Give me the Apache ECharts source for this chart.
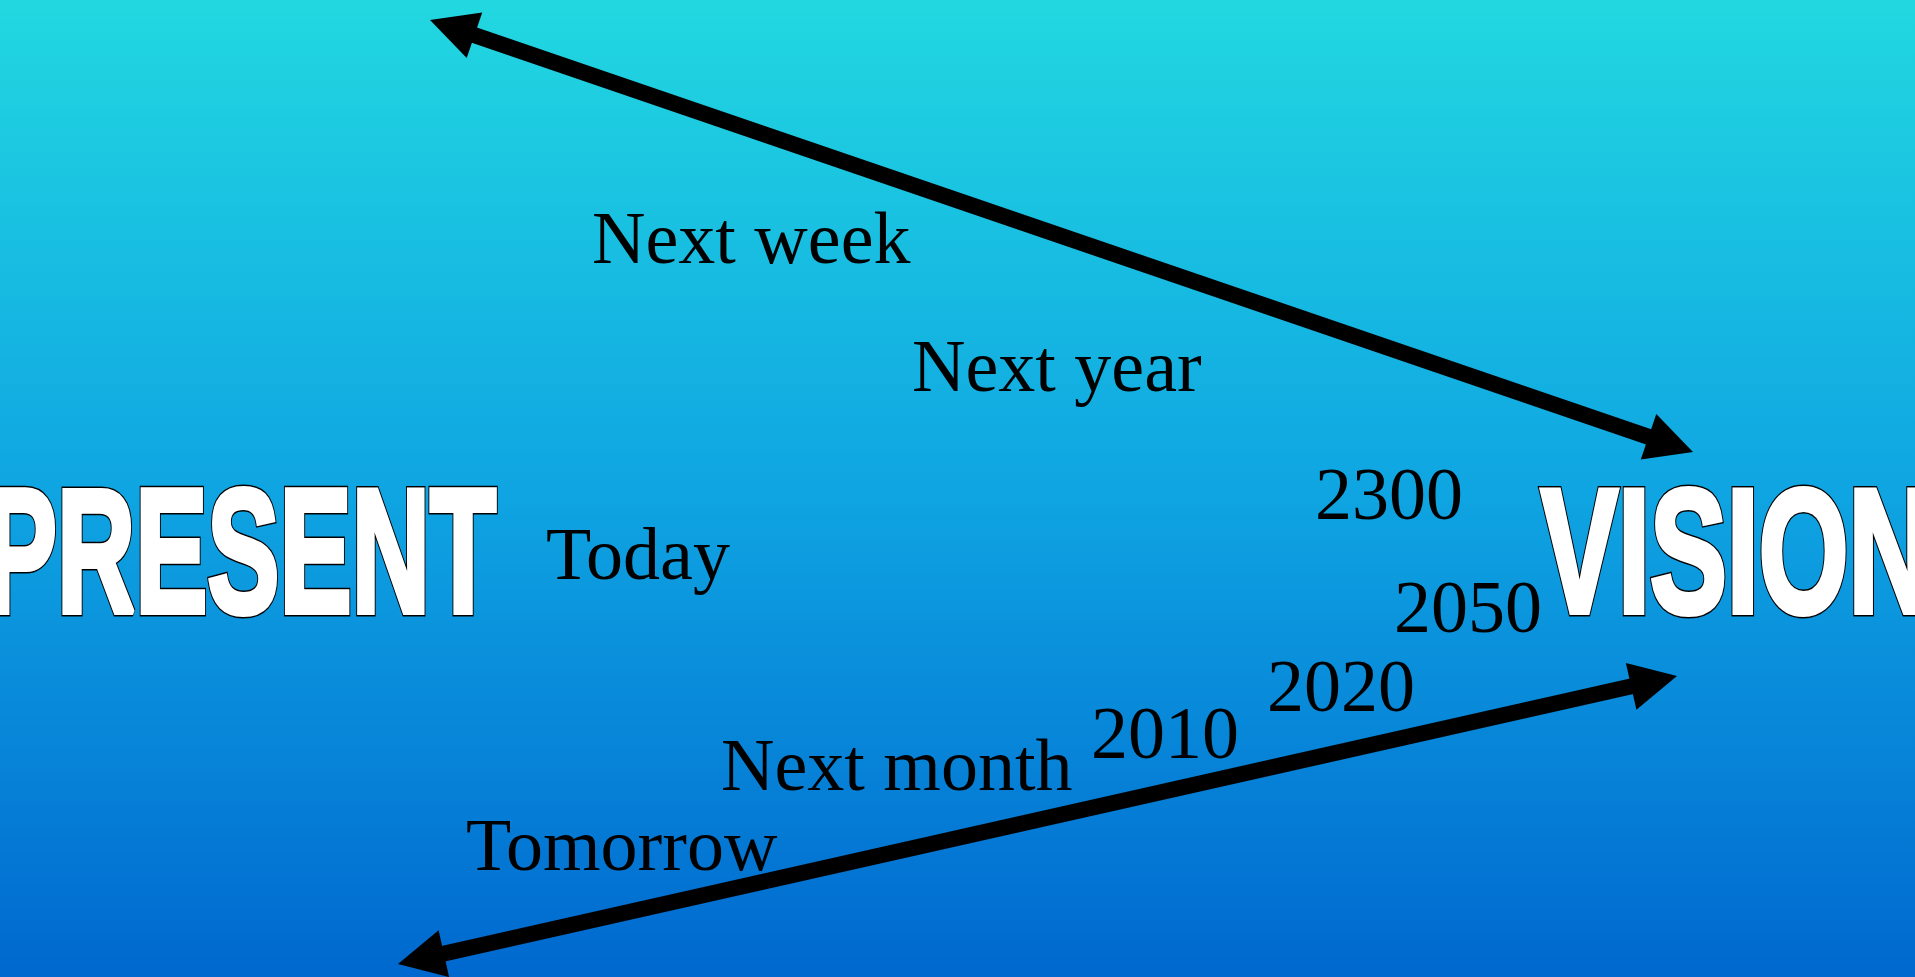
<!DOCTYPE html>
<html>
<head>
<meta charset="utf-8">
<script src="https://cdn.jsdelivr.net/npm/echarts@6/dist/echarts.min.js"></script>
<style>
html,body{margin:0;padding:0;width:100%;height:100%;overflow:hidden;}
#chart{width:1915px;height:977px;}
</style>
</head>
<body>
<div id="chart"></div>
<script>
// ---- data (diagram coordinates in a 1915 x 977 value space) ----
const arrowStartX = [430, 398];
const arrowStartY = [20, 964];
const arrowEndX = [1693, 1677];
const arrowEndY = [452, 676];

const labelTexts = ['Next week', 'Next year', 'Today', '2300', '2050', '2020', '2010', 'Next month', 'Tomorrow'];
const labelX = [592, 912, 546, 1315, 1394, 1267, 1091, 721, 466];
const labelY = [263, 391, 579, 519, 632, 711, 758, 790, 870];

const titleTexts = ['PRESENT', 'VISION'];
const titleX = [496, 1541];
const titleY = [619, 619];
const titleAlign = ['right', 'left'];
const titleScaleX = [0.615, 0.655];

// ---- chart ----
const chart = echarts.init(document.getElementById('chart'), null, {renderer: 'canvas'});

const HEAD_LEN = 47, HEAD_HALF = 24, SHAFT = 16;
const MID_SERIF = 0.26;
const MID_SANS = 0.29;

function head(tip, dir) {
  const bx = tip[0] - dir[0] * HEAD_LEN, by = tip[1] - dir[1] * HEAD_LEN;
  const nx = -dir[1], ny = dir[0];
  return [[tip[0], tip[1]], [bx + nx * HEAD_HALF, by + ny * HEAD_HALF], [bx - nx * HEAD_HALF, by - ny * HEAD_HALF]];
}

const option = {
  animation: false,
  backgroundColor: {
    type: 'linear', x: 0, y: 0, x2: 0, y2: 1,
    colorStops: [
      {offset: 0, color: '#22D8E0'},
      {offset: 0.5, color: '#0FA5E2'},
      {offset: 1, color: '#0068CF'}
    ]
  },
  grid: {left: 0, right: 0, top: 0, bottom: 0},
  xAxis: {type: 'value', min: 0, max: 1915, show: false},
  yAxis: {type: 'value', min: 0, max: 977, inverse: true, show: false},
  series: [
    {
      type: 'custom',
      coordinateSystem: 'cartesian2d',
      data: arrowStartX.map((x, i) => [x, arrowStartY[i], arrowEndX[i], arrowEndY[i]]),
      renderItem: function (params, api) {
        const a = api.coord([api.value(0), api.value(1)]);
        const b = api.coord([api.value(2), api.value(3)]);
        const dx = b[0] - a[0], dy = b[1] - a[1];
        const len = Math.sqrt(dx * dx + dy * dy);
        const d = [dx / len, dy / len];
        const nd = [-d[0], -d[1]];
        return {
          type: 'group',
          children: [
            {type: 'line', shape: {x1: a[0] + d[0] * (HEAD_LEN - 4), y1: a[1] + d[1] * (HEAD_LEN - 4), x2: b[0] - d[0] * (HEAD_LEN - 4), y2: b[1] - d[1] * (HEAD_LEN - 4)},
             style: {stroke: '#000', lineWidth: SHAFT, lineCap: 'butt'}},
            {type: 'polygon', shape: {points: head(a, nd)}, style: {fill: '#000'}},
            {type: 'polygon', shape: {points: head(b, d)}, style: {fill: '#000'}}
          ]
        };
      }
    },
    {
      type: 'custom',
      coordinateSystem: 'cartesian2d',
      data: labelX.map((x, i) => [x, labelY[i]]),
      renderItem: function (params, api) {
        const p = api.coord([api.value(0), api.value(1)]);
        const fs = 74;
        return {
          type: 'text',
          x: p[0], y: p[1] - fs * MID_SERIF,
          style: {
            text: labelTexts[params.dataIndex],
            fill: '#000',
            font: 'normal ' + fs + 'px "Liberation Serif", "Times New Roman", serif',
            align: 'left', verticalAlign: 'middle'
          }
        };
      }
    },
    {
      type: 'custom',
      coordinateSystem: 'cartesian2d',
      data: titleX.map((x, i) => [x, titleY[i]]),
      renderItem: function (params, api) {
        const p = api.coord([api.value(0), api.value(1)]);
        const fs = 176;
        const base = p[1] - 4.5;
        const font = 'bold ' + fs + 'px "Liberation Sans", Arial, sans-serif';
        const txt = titleTexts[params.dataIndex];
        const al = titleAlign[params.dataIndex];
        const common = {x: p[0], y: base - fs * MID_SANS, scaleX: titleScaleX[params.dataIndex], scaleY: 1};
        return {
          type: 'group',
          children: [
            Object.assign({type: 'text', style: {text: txt, fill: '#000', stroke: '#000', lineWidth: 9, lineJoin: 'miter', font: font, align: al, verticalAlign: 'middle'}}, common),
            Object.assign({type: 'text', style: {text: txt, fill: '#FFFFFF', stroke: '#FFFFFF', lineWidth: 6, lineJoin: 'miter', font: font, align: al, verticalAlign: 'middle'}}, common)
          ]
        };
      }
    }
  ]
};
chart.setOption(option);
</script>
</body>
</html>
